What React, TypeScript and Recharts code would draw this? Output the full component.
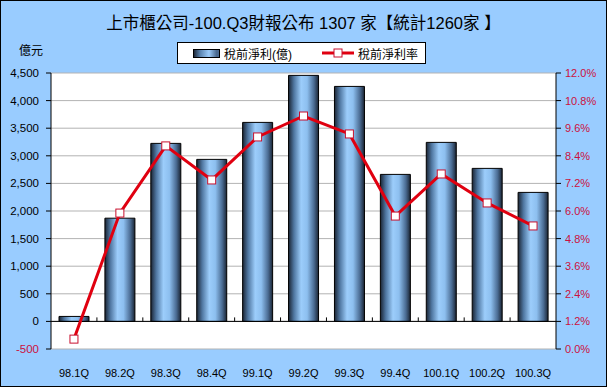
import React from 'react';
import {
  ComposedChart,
  Bar,
  Line,
  XAxis,
  YAxis,
  CartesianGrid,
  ReferenceLine,
} from 'recharts';

const categories = ['98.1Q', '98.2Q', '98.3Q', '98.4Q', '99.1Q', '99.2Q', '99.3Q', '99.4Q', '100.1Q', '100.2Q', '100.3Q'];
// 稅前淨利(億)
const profit = [90, 1870, 3225, 2935, 3605, 4457, 4257, 2663, 3243, 2772, 2337];
// 稅前淨利率 (%)
const profitRate = [0.43, 5.91, 8.83, 7.35, 9.22, 10.13, 9.35, 5.78, 7.61, 6.35, 5.35];

const leftTicks = [-500, 0, 500, 1000, 1500, 2000, 2500, 3000, 3500, 4000, 4500];
const rightTicks = [0, 1.2, 2.4, 3.6, 4.8, 6.0, 7.2, 8.4, 9.6, 10.8, 12.0];

const data = categories.map((c, i) => ({ name: c, profit: profit[i], rate: profitRate[i] }));

const FONT = '"Liberation Sans", "Noto Sans CJK TC", sans-serif';
const RED = '#e00010';
const AXIS_RED = '#cc1040';

const LeftTick = (props: any) => {
  const { x, y, payload } = props;
  const v = payload.value as number;
  return (
    <text x={x} y={y} dy={4} textAnchor="end" fontSize={11.5} fontFamily={FONT} fill={v < 0 ? AXIS_RED : '#000'}>
      {v.toLocaleString('en-US')}
    </text>
  );
};

const SquareDot = (props: any) => {
  const { cx, cy } = props;
  if (cx == null || cy == null) return null;
  return <rect x={cx - 4} y={cy - 4} width={8} height={8} fill="#fff" stroke="#c8102e" strokeWidth={1} />;
};

// zero line with small category-boundary tick marks, like the Excel category axis
const ZeroAxis = (props: any) => {
  const { x1, x2, y1 } = props;
  if (x1 == null || x2 == null || y1 == null) return null;
  const n = categories.length;
  const step = (x2 - x1) / n;
  return (
    <g>
      <line x1={x1} x2={x2} y1={y1} y2={y1} stroke="#000" />
      {Array.from({ length: n - 1 }, (_, k) => (
        <line key={k} x1={x1 + step * (k + 1)} x2={x1 + step * (k + 1)} y1={y1} y2={y1 - 4} stroke="#000" />
      ))}
    </g>
  );
};

const LegendBox = () => (
  <div
    style={{
      position: 'absolute',
      left: 177,
      top: 42,
      width: 249,
      height: 22,
      border: '1px solid #000',
      background: '#fff',
      display: 'flex',
      alignItems: 'center',
      fontFamily: FONT,
      fontSize: 12,
      boxSizing: 'border-box',
    }}
  >
    <span
      style={{
        display: 'inline-block',
        width: 25,
        height: 7,
        marginLeft: 15,
        marginRight: 4,
        border: '1px solid #000',
        background: 'linear-gradient(to right, #1c2838, #5a84b0 25%, #9cccfa 60%, #4a6a90 90%)',
      }}
    />
    <span>稅前淨利(億)</span>
    <svg width={32} height={10} style={{ marginLeft: 30, marginRight: 4 }}>
      <line x1={0} y1={5} x2={32} y2={5} stroke={RED} strokeWidth={3} />
      <rect x={12} y={1} width={8} height={8} fill="#fff" stroke="#c8102e" strokeWidth={1} />
    </svg>
    <span>稅前淨利率</span>
  </div>
);

export default function App() {
  return (
    <div style={{ position: 'absolute', left: 0, top: 0, width: 607, height: 387, background: '#99ccff' }}>
      <div
        style={{
          position: 'absolute',
          left: 0,
          top: 13,
          width: 607,
          textAlign: 'center',
          fontFamily: FONT,
          fontSize: 16.5,
          lineHeight: '20px',
          color: '#000',
        }}
      >
        上市櫃公司-100.Q3財報公布 1307 家【統計1260家 】
      </div>
      <div style={{ position: 'absolute', left: 19, top: 41, fontFamily: FONT, fontSize: 12 }}>億元</div>
      <ComposedChart width={607} height={387} data={data} margin={{ top: 73, right: 6, bottom: 8, left: 8 }}>
        <defs>
          <linearGradient id="barGrad" x1="0" y1="0" x2="1" y2="0">
            <stop offset="0%" stopColor="#1a2433" />
            <stop offset="18%" stopColor="#4f76a0" />
            <stop offset="42%" stopColor="#9ccdfb" />
            <stop offset="62%" stopColor="#8dbfef" />
            <stop offset="85%" stopColor="#4a6b92" />
            <stop offset="100%" stopColor="#1a2433" />
          </linearGradient>
        </defs>
        <CartesianGrid yAxisId="left" vertical={false} stroke="#b3b3b3" fill="#fff" />
        <XAxis
          dataKey="name"
          height={30}
          tickLine={false}
          axisLine={false}
          tick={{ fontSize: 11, fontFamily: FONT, fill: '#000' }}
          tickMargin={14}
          interval={0}
        />
        <YAxis
          yAxisId="left"
          width={43}
          domain={[-500, 4500]}
          ticks={leftTicks}
          tick={<LeftTick />}
          tickLine={{ stroke: '#000' }}
          axisLine={{ stroke: '#000' }}
          tickSize={5}
          tickMargin={7}
        />
        <YAxis
          yAxisId="right"
          orientation="right"
          width={45}
          domain={[0, 12]}
          ticks={rightTicks}
          tickFormatter={(v: number) => `${v.toFixed(1)}%`}
          tick={{ fontSize: 11, fontFamily: FONT, fill: AXIS_RED }}
          tickLine={{ stroke: '#000' }}
          axisLine={{ stroke: '#000' }}
          tickSize={5}
          tickMargin={4}
        />
        <ReferenceLine yAxisId="left" y={0} stroke="#000" shape={<ZeroAxis />} />
        <Bar
          yAxisId="left"
          dataKey="profit"
          name="稅前淨利(億)"
          barSize={30}
          fill="url(#barGrad)"
          stroke="#000"
          strokeWidth={1}
          isAnimationActive={false}
        />
        <Line
          yAxisId="right"
          dataKey="rate"
          name="稅前淨利率"
          stroke={RED}
          strokeWidth={3}
          dot={<SquareDot />}
          activeDot={false}
          isAnimationActive={false}
        />
      </ComposedChart>
      <LegendBox />
      <div
        style={{
          position: 'absolute',
          left: 0,
          top: 0,
          width: 607,
          height: 387,
          border: '1px solid #000',
          boxSizing: 'border-box',
          pointerEvents: 'none',
        }}
      />
    </div>
  );
}
